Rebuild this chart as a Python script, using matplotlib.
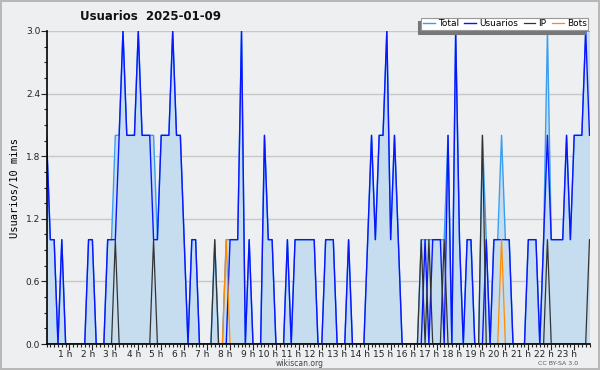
import matplotlib
matplotlib.use('Agg')
import matplotlib.pyplot as plt
import matplotlib.transforms as mtransforms
from matplotlib.ticker import MultipleLocator, FixedLocator, FormatStrFormatter

# 10-minute slots of 2025-01-09 (00:00 .. 23:40)
usuarios = [2, 1, 1, 0, 1, 0, 0, 0, 0, 0, 0, 1,
            1, 0, 0, 0, 1, 1, 1, 2, 3, 2, 2, 2,
            3, 2, 2, 2, 1, 1, 2, 2, 2, 3, 2, 2,
            1, 0, 1, 1, 0, 0, 0, 0, 0, 0, 0, 0,
            1, 1, 1, 3, 0, 1, 0, 0, 0, 2, 1, 1,
            0, 0, 0, 1, 0, 1, 1, 1, 1, 1, 1, 0,
            0, 1, 1, 1, 0, 0, 0, 1, 0, 0, 0, 0,
            1, 2, 1, 2, 2, 3, 1, 2, 1, 0, 0, 0,
            0, 0, 0, 1, 0, 1, 1, 1, 0, 2, 0, 3,
            1, 0, 1, 1, 0, 0, 0, 1, 0, 1, 1, 1,
            1, 1, 0, 0, 0, 0, 1, 1, 1, 0, 1, 2,
            1, 1, 1, 1, 2, 1, 2, 2, 2, 3, 2]
ip = [0, 0, 0, 0, 0, 0, 0, 0, 0, 0, 0, 0,
      0, 0, 0, 0, 0, 0, 1, 0, 0, 0, 0, 0,
      0, 0, 0, 0, 1, 0, 0, 0, 0, 0, 0, 0,
      0, 0, 0, 0, 0, 0, 0, 0, 1, 0, 0, 0,
      0, 0, 0, 0, 0, 0, 0, 0, 0, 0, 0, 0,
      0, 0, 0, 0, 0, 0, 0, 0, 0, 0, 0, 0,
      0, 0, 0, 0, 0, 0, 0, 0, 0, 0, 0, 0,
      0, 0, 0, 0, 0, 0, 0, 0, 0, 0, 0, 0,
      0, 0, 1, 0, 1, 0, 0, 0, 1, 0, 0, 0,
      0, 0, 0, 0, 0, 0, 2, 0, 0, 0, 0, 0,
      0, 0, 0, 0, 0, 0, 0, 0, 0, 0, 0, 1,
      0, 0, 0, 0, 0, 0, 0, 0, 0, 0, 1]
bots = [0, 0, 0, 0, 0, 0, 0, 0, 0, 0, 0, 0,
        0, 0, 0, 0, 0, 0, 0, 0, 0, 0, 0, 0,
        0, 0, 0, 0, 0, 0, 0, 0, 0, 0, 0, 0,
        0, 0, 0, 0, 0, 0, 0, 0, 0, 0, 0, 1,
        0, 0, 0, 0, 0, 0, 0, 0, 0, 0, 0, 0,
        0, 0, 0, 0, 0, 0, 0, 0, 0, 0, 0, 0,
        0, 0, 0, 0, 0, 0, 0, 0, 0, 0, 0, 0,
        0, 0, 0, 0, 0, 0, 0, 0, 0, 0, 0, 0,
        0, 0, 0, 0, 0, 0, 0, 0, 0, 0, 0, 0,
        0, 0, 0, 0, 0, 0, 0, 0, 0, 0, 0, 1,
        0, 0, 0, 0, 0, 0, 0, 0, 0, 0, 0, 0,
        0, 0, 0, 0, 0, 0, 0, 0, 0, 0, 0]
total = [2, 1, 1, 0, 1, 0, 0, 0, 0, 0, 0, 1,
         1, 0, 0, 0, 1, 1, 2, 2, 3, 2, 2, 2,
         3, 2, 2, 2, 2, 1, 2, 2, 2, 3, 2, 2,
         1, 0, 1, 1, 0, 0, 0, 0, 1, 0, 0, 1,
         1, 1, 1, 3, 0, 1, 0, 0, 0, 2, 1, 1,
         0, 0, 0, 1, 0, 1, 1, 1, 1, 1, 1, 0,
         0, 1, 1, 1, 0, 0, 0, 1, 0, 0, 0, 0,
         1, 2, 1, 2, 2, 3, 1, 2, 1, 0, 0, 0,
         0, 0, 1, 1, 1, 1, 1, 1, 1, 2, 0, 3,
         1, 0, 1, 1, 0, 0, 2, 1, 0, 1, 1, 2,
         1, 1, 0, 0, 0, 0, 1, 1, 1, 0, 1, 3,
         1, 1, 1, 1, 2, 1, 2, 2, 2, 3, 3]
slots = list(range(len(usuarios)))
hours = list(range(1, 24))
hour_labels = [f"{h} h" for h in hours]
y_ticks = [0.0, 0.6, 1.2, 1.8, 2.4, 3.0]

BG = '#eeeff1'
C_TOTAL = '#3a9ef0'
C_USR = '#0a14ff'
C_IP = '#333333'
C_BOTS = '#ff8c00'
C_FILL = '#c6ddf0'

fig = plt.figure(figsize=(6.0, 3.7), dpi=100, facecolor=BG)
fig.patch.set_edgecolor('#b8b8b8')
fig.patch.set_linewidth(1.5)
ax = fig.add_axes([46.5 / 600, 26 / 370, 543 / 600, 313 / 370], facecolor=BG)

ax.fill_between(slots, total, 0, color=C_FILL, linewidth=0, zorder=1)
ax.plot(slots, total, color=C_TOTAL, lw=1.0, zorder=3, label='Total')
ax.plot(slots, usuarios, color=C_USR, lw=1.0, zorder=4, label='Usuarios')
ax.plot(slots, ip, color=C_IP, lw=0.9, zorder=5, label='IP')
ax.plot(slots, bots, color=C_BOTS, lw=0.9, zorder=6, label='Bots')

ax.set_xlim(0, len(slots) - 1)
ax.set_ylim(0, 3.0)

ax.xaxis.set_major_locator(FixedLocator([h * 6 for h in hours]))
ax.set_xticklabels(hour_labels)
ax.xaxis.set_minor_locator(MultipleLocator(1))
ax.set_yticks(y_ticks)
ax.yaxis.set_major_formatter(FormatStrFormatter('%.1f'))
ax.yaxis.set_minor_locator(MultipleLocator(0.15))

ax.tick_params(axis='both', which='major', direction='out', length=4, width=0.8,
               labelsize=6.5, colors='#222222', pad=0.5)
ax.tick_params(axis='both', which='minor', direction='out', length=2.5, width=0.8,
               colors='#222222')
shift = mtransforms.ScaledTranslation(2.5 / 100, 0, fig.dpi_scale_trans)
for lbl in ax.get_xticklabels():
    lbl.set_horizontalalignment('right')
    lbl.set_transform(lbl.get_transform() + shift)

ax.grid(axis='y', color='#c8c8c8', lw=1.0, zorder=0)
ax.set_axisbelow(True)
for s in ['top', 'right']:
    ax.spines[s].set_visible(False)
for s in ['left', 'bottom']:
    ax.spines[s].set_color('#000000')
    ax.spines[s].set_linewidth(1.2)
    ax.spines[s].set_zorder(10)

ax.set_ylabel('Usuarios/10 mins', fontsize=7.5, family='DejaVu Sans Mono', labelpad=4)

fig.text(80 / 600, 1 - 17 / 370, 'Usuarios  2025-01-09', fontsize=8.5,
         fontweight='bold', ha='left', va='center', color='#111111')

leg = fig.legend(loc='upper right', bbox_to_anchor=(593 / 600, 1 - 13 / 370), ncol=4,
                 fontsize=6.5, frameon=True, fancybox=False, handlelength=1.3,
                 handletextpad=0.35, columnspacing=0.6, borderpad=0.2,
                 shadow={'ox': -2.5, 'oy': -2.5, 'color': '#777777', 'alpha': 1})
leg.get_frame().set_facecolor('white')
leg.get_frame().set_edgecolor('#999999')
leg.get_frame().set_linewidth(0.8)

fig.text(300 / 600, 1 - 363.5 / 370, 'wikiscan.org', fontsize=5.5, ha='center',
         va='center', color='#444444')
fig.text(578 / 600, 1 - 363.5 / 370, 'CC BY-SA 3.0', fontsize=4.5, ha='right',
         va='center', color='#555555')

fig.savefig('out.png', dpi=100, facecolor=BG, edgecolor=fig.patch.get_edgecolor())
